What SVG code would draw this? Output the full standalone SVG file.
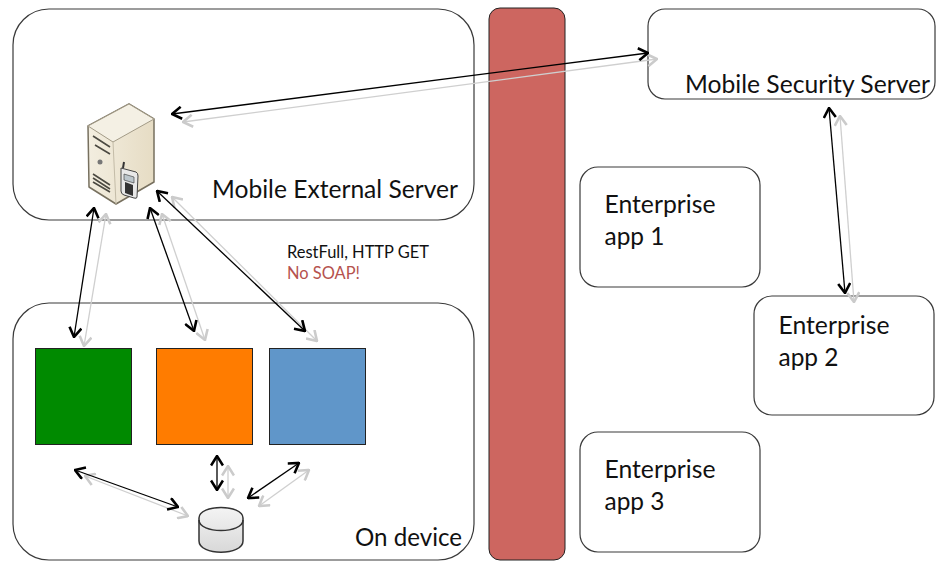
<svg xmlns="http://www.w3.org/2000/svg" width="950" height="570" viewBox="0 0 950 570">
<defs>
<marker id="ab" viewBox="-11 -7 12 14" refX="0" refY="0" markerWidth="12" markerHeight="14" markerUnits="userSpaceOnUse" orient="auto-start-reverse"><path d="M-9.500 -6 L0 0 L-9.500 6" fill="none" stroke="#000" stroke-width="2.600"/></marker>
<marker id="ag" viewBox="-11 -7 12 14" refX="0" refY="0" markerWidth="12" markerHeight="14" markerUnits="userSpaceOnUse" orient="auto-start-reverse"><path d="M-9.500 -6 L0 0 L-9.500 6" fill="none" stroke="#cbcbcb" stroke-width="2.600"/></marker>
<linearGradient id="dbg" x1="0" x2="0" y1="0" y2="1"><stop offset="0" stop-color="#f4f4f4"/><stop offset="1" stop-color="#d8d8d8"/></linearGradient>
<linearGradient id="sf" x1="0" x2="1" y1="0" y2="0"><stop offset="0" stop-color="#f3eee0"/><stop offset="1" stop-color="#e6dcc4"/></linearGradient>
</defs>
<style>
.box{fill:#fff;stroke:#3a3a3a;stroke-width:1.200}
.t{font-family:Lato,"Open Sans","Liberation Sans",sans-serif;font-size:25.500px;fill:#111}
.s{font-family:Lato,"Open Sans","Liberation Sans",sans-serif;font-size:16.500px}
.k{fill:none;stroke:#000;stroke-width:1.300;marker-start:url(#ab);marker-end:url(#ab)}
.g{fill:none;stroke:#cfcfcf;stroke-width:1.300;marker-start:url(#ag);marker-end:url(#ag)}
</style>
<rect width="950" height="570" fill="#fff"/>
<g id="mobile-external-server">
<rect class="box" x="13" y="9" width="461" height="211" rx="36"/>
<text class="t" x="212" y="198" textLength="246" lengthAdjust="spacingAndGlyphs">Mobile External Server</text>
</g>
<g id="on-device">
<rect class="box" x="13" y="303" width="461" height="257" rx="36"/>
<text class="t" x="355" y="546" textLength="107" lengthAdjust="spacingAndGlyphs">On device</text>
</g>
<g id="firewall"><rect x="489" y="8" width="76" height="552" rx="11" fill="#cd6660" stroke="#222" stroke-width="1"/></g>
<g id="mobile-security-server">
<rect class="box" x="648" y="9" width="287" height="90" rx="17"/>
<text class="t" x="685" y="93" textLength="245" lengthAdjust="spacingAndGlyphs">Mobile Security Server</text>
</g>
<g id="enterprise-app-1">
<rect class="box" x="580" y="167" width="180" height="120" rx="18"/>
<text class="t" x="604.500" y="213" textLength="111" lengthAdjust="spacingAndGlyphs">Enterprise</text><text class="t" x="604.500" y="245" textLength="60" lengthAdjust="spacingAndGlyphs">app 1</text>
</g>
<g id="enterprise-app-2">
<rect class="box" x="754" y="296" width="180" height="119" rx="18"/>
<text class="t" x="778.500" y="334" textLength="111" lengthAdjust="spacingAndGlyphs">Enterprise</text><text class="t" x="778.500" y="366" textLength="60" lengthAdjust="spacingAndGlyphs">app 2</text>
</g>
<g id="enterprise-app-3">
<rect class="box" x="580" y="432" width="180" height="120" rx="18"/>
<text class="t" x="604.500" y="478" textLength="111" lengthAdjust="spacingAndGlyphs">Enterprise</text><text class="t" x="604.500" y="510" textLength="60" lengthAdjust="spacingAndGlyphs">app 3</text>
</g>
<g id="green-block"><rect x="35.500" y="348.500" width="96" height="96" fill="#008a00" stroke="#222"/></g>
<g id="orange-block"><rect x="156.500" y="348.500" width="96" height="96" fill="#ff7c00" stroke="#222"/></g>
<g id="blue-block"><rect x="269.500" y="348.500" width="96" height="96" fill="#6096c9" stroke="#222"/></g>
<g id="server-icon">
<path d="M88 126 L129 104 L154 119 L154 182 L116 204 L89 187 Z" fill="url(#sf)" stroke="#77705f" stroke-width="1.500" stroke-linejoin="round"/>
<path d="M88 126 L129 104 L154 119 L113 142 Z" fill="#f4f0e4" stroke="#a39b87" stroke-width="1"/>
<path d="M113 142 L116 204" stroke="#c4bca8" fill="none"/>
<path d="M93 136 L110 147 M95 145 L110 154 M93 174 L110 185 M93 178 L110 189 M93 182 L110 192" stroke="#4c4a42" stroke-width="1.600" fill="none"/>
<circle cx="100" cy="162" r="2.500" fill="#777"/>
<path d="M121 168 L136 172 Q138 173 138 176 L137 197 Q137 199 134 198 L124 195 Q121 194 121 191 Z" fill="#e8e8e8" stroke="#444"/>
<path d="M124 174 L134 177 L134 183 L124 180 Z" fill="#bcc6cc" stroke="#333" stroke-width=".6"/>
<path d="M125 182 L133 185 L133 196 L125 193 Z" fill="#333"/>
<path d="M123 168 L124 162" stroke="#333" stroke-width="2"/>
</g>
<g id="database-icon">
<path d="M199 518 C199 504 243 504 243 518 L243 541 C243 556 199 556 199 541 Z" fill="url(#dbg)" stroke="#333" stroke-width="1.500"/>
<path d="M199 520 C199 534 243 534 243 520" fill="none" stroke="#333" stroke-width="1.500"/>
</g>
<g id="connectors">
<line class="g" x1="183" y1="122" x2="657" y2="59"/>
<line class="k" x1="172" y1="114" x2="648" y2="53"/>
<line class="g" x1="106" y1="214" x2="84" y2="346"/>
<line class="k" x1="94" y1="208" x2="74" y2="337"/>
<line class="g" x1="162" y1="214" x2="205" y2="340"/>
<line class="k" x1="150" y1="208" x2="194" y2="331"/>
<line class="g" x1="172" y1="197" x2="317" y2="341"/>
<line class="k" x1="157" y1="191" x2="305" y2="331"/>
<line class="g" x1="85" y1="476" x2="188" y2="516"/>
<line class="k" x1="75" y1="470" x2="178" y2="507"/>
<line class="g" x1="228" y1="466" x2="228" y2="498"/>
<line class="k" x1="217" y1="456" x2="217" y2="490"/>
<line class="g" x1="259" y1="506" x2="309" y2="470"/>
<line class="k" x1="248" y1="498" x2="299" y2="463"/>
<line class="g" x1="840" y1="116" x2="854" y2="302"/>
<line class="k" x1="829" y1="108" x2="845" y2="293"/>
</g>
<g id="protocol-label">
<text class="s" x="287" y="258" fill="#111" textLength="142" lengthAdjust="spacingAndGlyphs">RestFull, HTTP GET</text>
<text class="s" x="287" y="279" fill="#b5524e" textLength="73" lengthAdjust="spacingAndGlyphs">No SOAP!</text>
</g>
</svg>
